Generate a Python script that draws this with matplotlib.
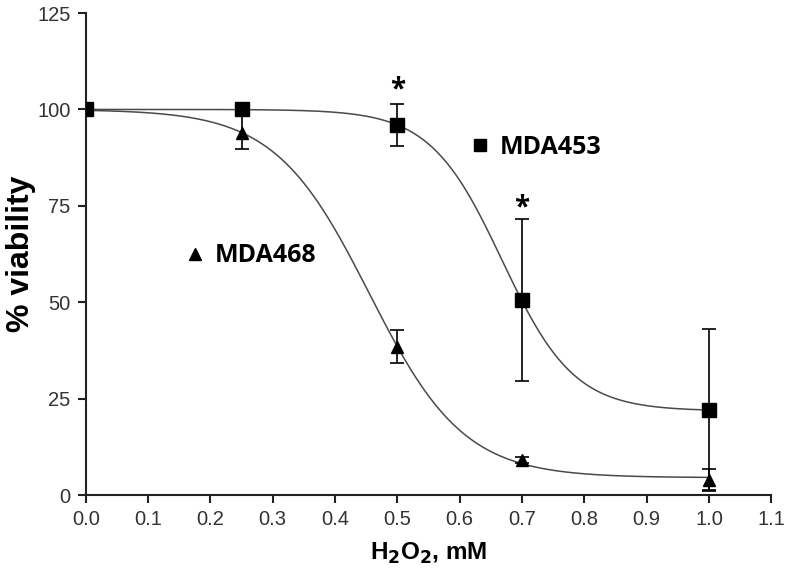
import numpy as np
import matplotlib
matplotlib.use("Agg")
import matplotlib.pyplot as plt
from matplotlib.lines import Line2D

plt.rcParams['font.family'] = ['Liberation Sans', 'DejaVu Sans']

# ---- data ----
conc = [0.0, 0.25, 0.5, 0.7, 1.0]
mda453 = [100, 100, 96, 50.5, 22]
mda453_err = [0, 0, 5.5, 21, 21]
mda468 = [100, 94, 38.5, 9, 4]
mda468_err = [0, 4.2, 4.2, 0.8, 2.7]

# fitted sigmoid (Boltzmann) parameters: top, bottom, x50, slope
fit453 = (100.0, 21.8, 0.668, 0.0577)
fit468 = (100.0, 4.5, 0.455, 0.0758)

xticks = [0.0, 0.1, 0.2, 0.3, 0.4, 0.5, 0.6, 0.7, 0.8, 0.9, 1.0, 1.1]
yticks = [0, 25, 50, 75, 100, 125]

star_x = [0.5, 0.7]
star_y = [105.0, 74.5]


def boltz(x, p):
    top, bottom, x50, slope = p
    return bottom + (top - bottom) / (1 + np.exp((x - x50) / slope))


fig = plt.figure(figsize=(7.87, 5.74), dpi=100)
ax = fig.add_axes([0.109, 0.1376, 0.871, 0.8397])

xs = np.linspace(0, 1.0, 400)
curve_col = '#4a4a4a'
ax.plot(xs, boltz(xs, fit453), color=curve_col, lw=1.1, zorder=2)
ax.plot(xs, boltz(xs, fit468), color=curve_col, lw=1.1, zorder=2)

ax.errorbar(conc, mda468, yerr=mda468_err, fmt='^', color='black', ms=9,
            capsize=4.7, elinewidth=1.2, capthick=1.2, zorder=3)
ax.errorbar(conc, mda453, yerr=mda453_err, fmt='s', color='black', ms=9.5,
            capsize=4.7, elinewidth=1.2, capthick=1.2, zorder=4)

for x, y in zip(star_x, star_y):
    ax.text(x, y, '*', ha='center', va='center', fontsize=20,
            fontweight='bold', color='black', family='Open Sans')

ax.set_xlim(0, 1.1)
ax.set_ylim(0, 125)
ax.set_xticks(xticks)
ax.set_xticklabels([f'{t:.1f}' for t in xticks])
ax.set_yticks(yticks)
ax.spines['top'].set_visible(False)
ax.spines['right'].set_visible(False)
for s in ['left', 'bottom']:
    ax.spines[s].set_linewidth(1.5)
    ax.spines[s].set_color('#222222')
ax.tick_params(axis='both', direction='out', length=6, width=1.5,
               labelsize=14.5, labelcolor='#333333', color='#222222', pad=5)

ax.set_ylabel('% viability', fontsize=23, fontweight='bold')
ax.yaxis.set_label_coords(-0.072, 0.5)
ax.set_xlabel(r'H$_\mathbf{2}$O$_\mathbf{2}$, mM', fontsize=17.5,
              fontweight='bold', labelpad=8)

h453 = Line2D([], [], marker='s', ls='none', color='black', ms=8)
h468 = Line2D([], [], marker='^', ls='none', color='black', ms=9)
leg_font = {'size': 18, 'weight': 'bold', 'family': 'Open Sans'}
leg1 = ax.legend([h453], ['MDA453'], loc='center left',
                 bbox_to_anchor=(0.528, 0.722), frameon=False,
                 handlelength=0.8, handletextpad=0.4, prop=leg_font)
ax.add_artist(leg1)
ax.legend([h468], ['MDA468'], loc='center left',
          bbox_to_anchor=(0.112, 0.496), frameon=False,
          handlelength=0.8, handletextpad=0.4, prop=leg_font)

fig.savefig('out.png', dpi=100)
